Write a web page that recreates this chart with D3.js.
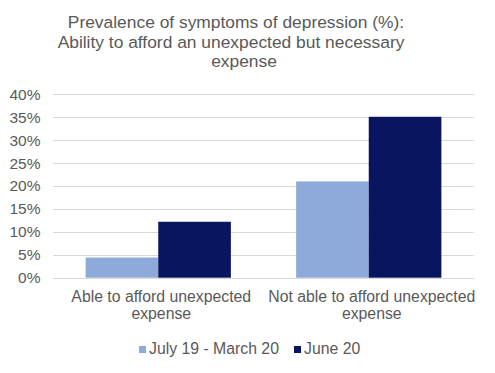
<!DOCTYPE html>
<meta charset="utf-8">
<style>
body { margin: 0; background: #fff; }
text { font-family: "Liberation Sans", Arial, sans-serif; fill: #595959; }
.grid line { stroke: #d9d9d9; stroke-width: 1px; }
</style>
<svg width="495" height="373"></svg>
<script src="https://cdnjs.cloudflare.com/ajax/libs/d3/7.8.5/d3.min.js"></script>
<script>

var titleLines = ["Prevalence of symptoms of depression (%):",
                  "Ability to afford an unexpected but necessary",
                  "expense"];
var categories = [["Able to afford unexpected", "expense"],
                  ["Not able to afford unexpected", "expense"]];
var seriesNames = ["July 19 - March 20", "June 20"];
var seriesColors = ["#8eaadb", "#0a1560"];
var july19March20 = [4.4, 21.0];
var june20 = [12.2, 35.1];
var yTicks = [0, 5, 10, 15, 20, 25, 30, 35, 40];

var svg = d3.select("svg");

var x = d3.scaleBand()
    .domain([0, 1])
    .range([53, 474])
    .paddingInner(0.31)
    .paddingOuter(0.155);

var xSub = d3.scaleBand()
    .domain([0, 1])
    .range([0, x.bandwidth()]);

var y = d3.scaleLinear()
    .domain([0, 40])
    .range([277.7, 94.3]);

// title (excel-style wrap, lines not quite on one centre)
var titleX = [236, 231, 244];
svg.append("text")
    .attr("text-anchor", "middle")
    .attr("font-size", 17.4)
  .selectAll("tspan")
  .data(titleLines)
  .enter().append("tspan")
    .attr("x", (d, i) => titleX[i])
    .attr("y", (d, i) => 28 + i * 19.7)
    .text(d => d);

// gridlines
svg.append("g")
    .attr("class", "grid")
  .selectAll("line")
  .data(yTicks)
  .enter().append("line")
    .attr("x1", 53)
    .attr("x2", 474)
    .attr("y1", d => Math.round(y(d)) + 0.5)
    .attr("y2", d => Math.round(y(d)) + 0.5);

// y axis labels
var yAxis = d3.axisLeft(y).tickValues(yTicks).tickFormat(d => d + "%").tickSize(0).tickPadding(0);
svg.append("g")
    .attr("transform", "translate(40.5,0)")
    .call(yAxis)
    .call(g => g.select(".domain").remove())
    .selectAll("text")
    .attr("font-size", 15.5)
    .attr("font-family", "Liberation Sans, Arial, sans-serif")
    .attr("fill", "#595959");

// bars
var series = [july19March20, june20];
series.forEach(function(vals, s) {
  svg.append("g")
    .selectAll("rect")
    .data(vals)
    .enter().append("rect")
      .attr("x", (d, i) => x(i) + xSub(s))
      .attr("width", xSub.bandwidth())
      .attr("y", d => y(d))
      .attr("height", d => y(0) - y(d))
      .attr("fill", seriesColors[s]);
});

// category labels
svg.append("g")
  .selectAll("text")
  .data(categories)
  .enter().append("text")
    .attr("text-anchor", "middle")
    .attr("font-size", 15.8)
    .each(function(lines, i) {
      d3.select(this).selectAll("tspan")
        .data(lines)
        .enter().append("tspan")
          .attr("x", x(i) + x.bandwidth() / 2 + 3)
          .attr("y", (d, j) => 302 + j * 16.5)
          .text(d => d);
    });

// legend
var legendX = [139, 294];
var legend = svg.append("g")
  .selectAll("g")
  .data(seriesNames)
  .enter().append("g")
    .attr("transform", (d, i) => "translate(" + legendX[i] + ",346)");
legend.append("rect")
    .attr("width", 7)
    .attr("height", 7)
    .attr("fill", (d, i) => seriesColors[i]);
legend.append("text")
    .attr("x", 10)
    .attr("y", 7.5)
    .attr("font-size", 15.8)
    .text(d => d);

</script>
